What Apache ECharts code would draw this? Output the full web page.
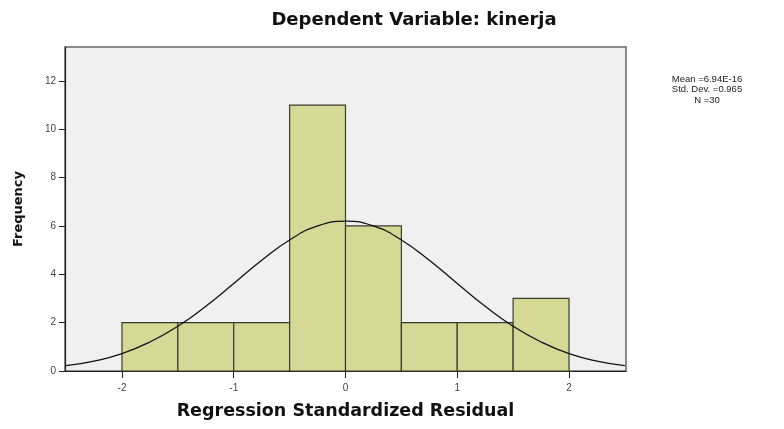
<!DOCTYPE html>
<html>
<head>
    <meta charset="utf-8" />
    <title>Histogram</title>
    <script src="https://cdn.jsdelivr.net/npm/echarts@6/dist/echarts.min.js"></script>
    <style>
        html, body { margin: 0; padding: 0; background: #fff; }
        #main { width: 784px; height: 429px; }
    </style>
</head>
<body>
<div id="main"></div>
<script type="text/javascript">
    // bins of the histogram (start, end) and their counts
    var binStart = [-2, -1.5, -1, -0.5, 0, 0.5, 1, 1.5];
    var binEnd = [-1.5, -1, -0.5, 0, 0.5, 1, 1.5, 2];
    var counts = [2, 2, 2, 11, 6, 2, 2, 3];

    // normal curve
    var curveX = [-2.5, -2.25, -2, -1.75, -1.5, -1.25, -1, -0.75, -0.5, -0.25, 0,
                  0.25, 0.5, 0.75, 1, 1.25, 1.5, 1.75, 2, 2.25, 2.5];
    var curveY = [0.22, 0.41, 0.72, 1.2, 1.85, 2.68, 3.62, 4.58, 5.42, 6.0, 6.2,
                  6.0, 5.42, 4.58, 3.62, 2.68, 1.85, 1.2, 0.72, 0.41, 0.22];

    var xTicks = [-2, -1, 0, 1, 2];
    var statLines = ['Mean =6.94E-16', 'Std. Dev. =0.965', 'N =30'];

    var barData = [];
    for (var i = 0; i < counts.length; i++) {
        barData.push([binStart[i], binEnd[i], counts[i]]);
    }
    var lineData = [];
    for (var j = 0; j < curveX.length; j++) {
        lineData.push([curveX[j], curveY[j]]);
    }

    var boldFont = 'DejaVu Sans, Verdana, sans-serif';

    var option = {
        backgroundColor: '#ffffff',
        textStyle: { fontFamily: 'Liberation Sans, Arial, sans-serif' },
        title: [{
            text: 'Dependent Variable: kinerja',
            left: 409,
            textAlign: 'center',
            top: 6,
            textStyle: { fontSize: 18, fontWeight: 'bold', color: '#111', fontFamily: boldFont }
        }, {
            text: statLines.join('\n'),
            left: 702,
            textAlign: 'center',
            top: 69,
            textStyle: { fontSize: 9.5, fontWeight: 'normal', color: '#222', lineHeight: 10.5 }
        }],
        grid: {
            left: 65, right: 158, top: 47, bottom: 58,
            show: true,
            backgroundColor: '#f0f0f0',
            borderColor: '#666',
            borderWidth: 1.5
        },
        xAxis: {
            type: 'value',
            min: -2.51,
            max: 2.51,
            name: 'Regression Standardized Residual',
            nameLocation: 'middle',
            nameGap: 31,
            nameTextStyle: { fontSize: 17.5, fontWeight: 'bold', color: '#111', fontFamily: boldFont },
            splitLine: { show: false },
            axisLine: { onZero: false, lineStyle: { color: '#222', width: 1.2 } },
            axisTick: { customValues: xTicks, length: 7, lineStyle: { color: '#222' } },
            axisLabel: { customValues: xTicks, fontSize: 10, color: '#444', margin: 12 }
        },
        yAxis: {
            type: 'value',
            min: 0,
            max: 13.4,
            interval: 2,
            name: 'Frequency',
            nameLocation: 'middle',
            nameGap: 40,
            nameTextStyle: { fontSize: 13, fontWeight: 'bold', color: '#111', fontFamily: boldFont },
            splitLine: { show: false },
            axisLine: { show: true, onZero: false, lineStyle: { color: '#222', width: 1.2 } },
            axisTick: { show: true, length: 6, lineStyle: { color: '#222' } },
            axisLabel: { fontSize: 10, color: '#444', margin: 9, showMaxLabel: false }
        },
        series: [{
            type: 'custom',
            data: barData,
            renderItem: function (params, api) {
                var p0 = api.coord([api.value(0), 0]);
                var p1 = api.coord([api.value(1), api.value(2)]);
                return {
                    type: 'rect',
                    shape: { x: p0[0], y: p1[1], width: p1[0] - p0[0], height: p0[1] - p1[1] },
                    style: { fill: '#d6d995', stroke: '#3b3b2c', lineWidth: 1.2 }
                };
            },
            z: 2
        }, {
            type: 'line',
            data: lineData,
            smooth: true,
            symbol: 'none',
            lineStyle: { color: '#111', width: 1.3 },
            z: 3
        }]
    };
    var myChart = echarts.init(document.getElementById('main'));
    myChart.setOption(option);
</script>
</body>
</html>
